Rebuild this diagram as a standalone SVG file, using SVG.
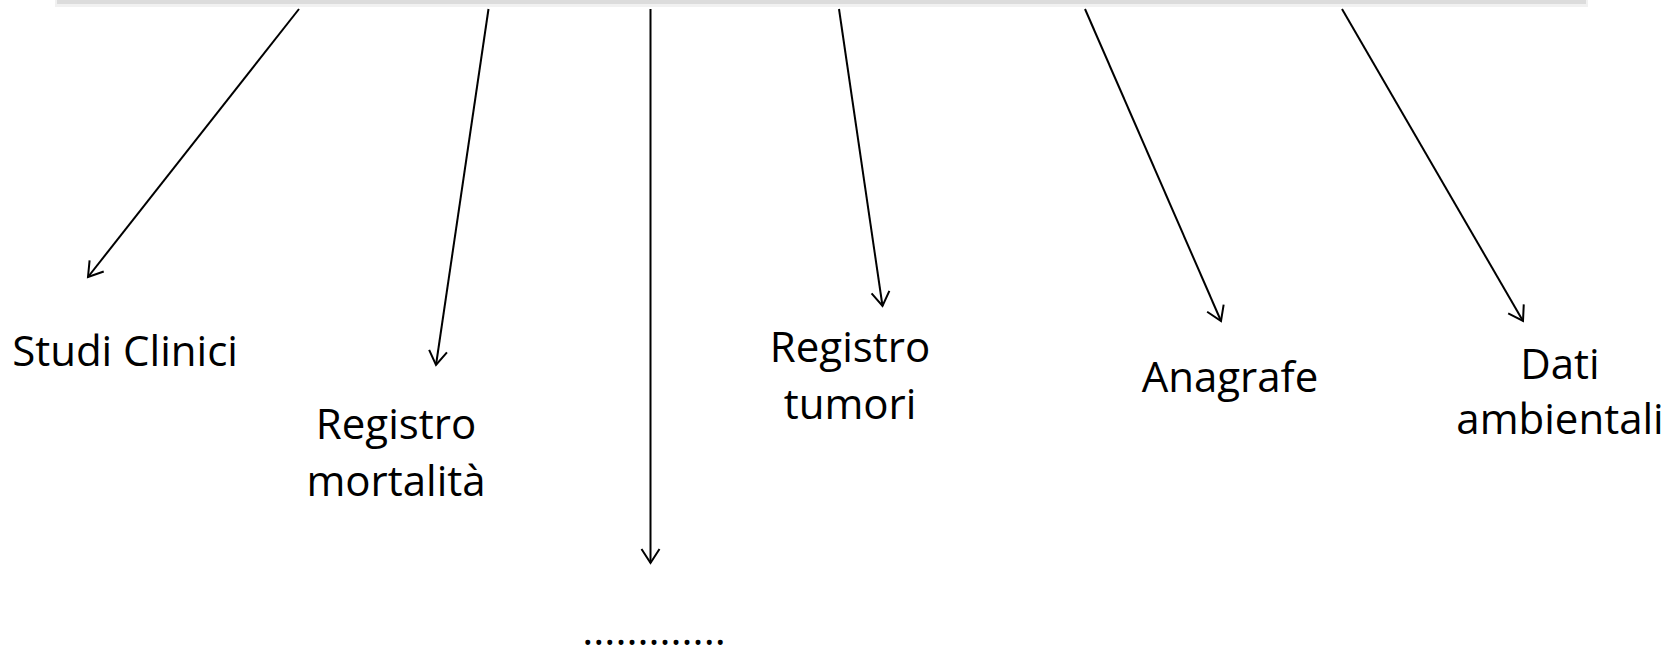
<svg xmlns="http://www.w3.org/2000/svg" width="1680" height="656" viewBox="0 0 1680 656">
<style>
.lbl{font-family:"Open Sans","Liberation Sans",sans-serif;font-size:42px;fill:#000;text-anchor:middle}
.conn{stroke:#000;stroke-width:2;fill:none;marker-end:url(#arr)}
</style>
<defs>
<marker id="arr" markerUnits="userSpaceOnUse" markerWidth="40" markerHeight="40" refX="0" refY="0" viewBox="-20 -20 40 40" orient="auto">
<path d="M-14,-9 L0,0 L-14,9" fill="none" stroke="#000" stroke-width="2" stroke-linejoin="miter"/>
</marker>
</defs>
<rect width="1680" height="656" fill="#fff"/>
<g id="topbar">
<rect x="55" y="0" width="1533" height="7" fill="#f1f1f1"/>
<rect x="57" y="0" width="1529" height="4" fill="#dcdcdc"/>
</g>
<g id="connectors">
<line class="conn" x1="299" y1="9" x2="88" y2="277"/>
<line class="conn" x1="488.5" y1="9" x2="436" y2="365"/>
<line class="conn" x1="650.5" y1="9" x2="650.5" y2="563"/>
<line class="conn" x1="839" y1="9" x2="882.5" y2="306"/>
<line class="conn" x1="1085" y1="9" x2="1221" y2="321"/>
<line class="conn" x1="1342" y1="9" x2="1523" y2="321"/>
</g>
<g id="studi-clinici"><text class="lbl" x="125" y="366">Studi Clinici</text></g>
<g id="registro-mortalita"><text class="lbl" x="396" y="439">Registro</text><text class="lbl" x="396" y="496">mortalità</text></g>
<g id="dots"><text class="lbl" x="654" y="645">.............</text></g>
<g id="registro-tumori"><text class="lbl" x="850" y="362">Registro</text><text class="lbl" x="850" y="419">tumori</text></g>
<g id="anagrafe"><text class="lbl" x="1230" y="392">Anagrafe</text></g>
<g id="dati-ambientali"><text class="lbl" x="1560" y="379">Dati</text><text class="lbl" x="1560" y="434">ambientali</text></g>
</svg>
